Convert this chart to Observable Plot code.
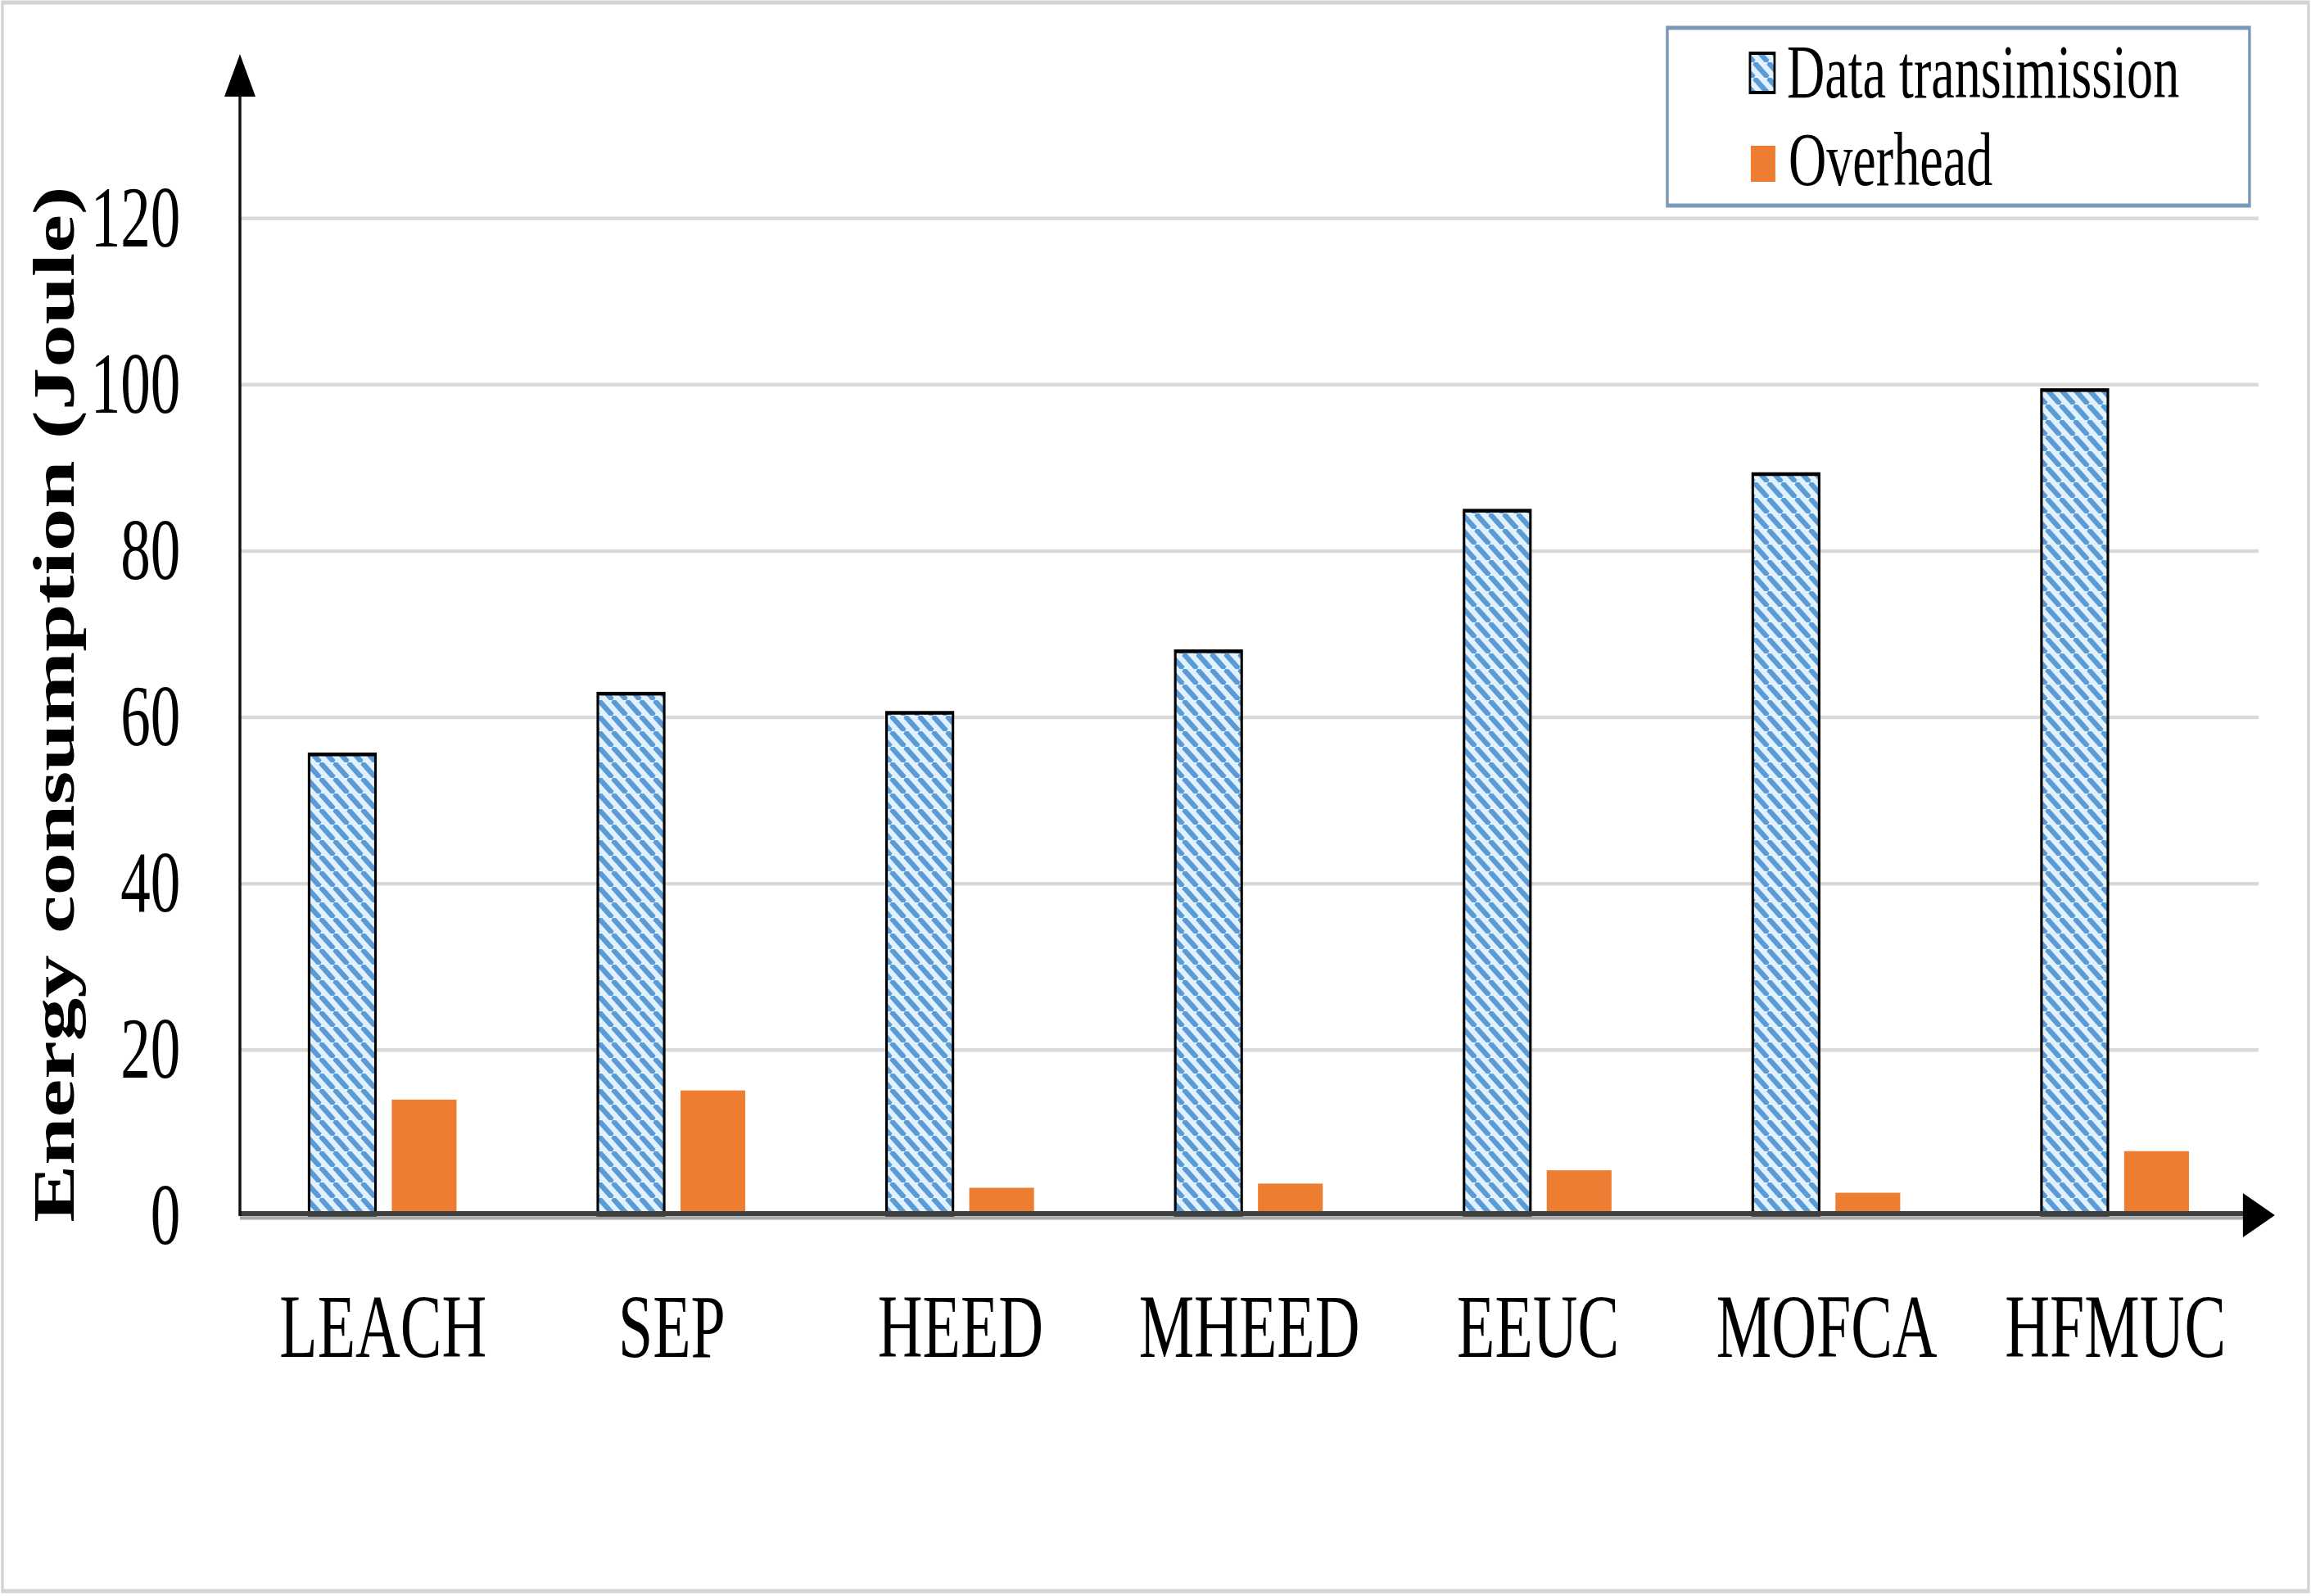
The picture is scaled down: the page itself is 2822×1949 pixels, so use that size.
<!DOCTYPE html>
<html><head><meta charset="utf-8">
<script src="https://cdn.jsdelivr.net/npm/d3@7"></script>
<script src="https://cdn.jsdelivr.net/npm/@observablehq/plot@0.6"></script>
<style>html,body{margin:0;padding:0;background:#fff;overflow:hidden}</style>
</head><body><div id="chart"></div>
<script>
const categories = ["LEACH", "SEP", "HEED", "MHEED", "EEUC", "MOFCA", "HFMUC"];
const dataTransmission = [55.5, 62.8, 60.5, 67.9, 84.8, 89.2, 99.3];
const overhead = [14.0, 15.1, 3.4, 3.9, 5.5, 2.8, 7.8];
const seriesNames = ["Data transimission", "Overhead"];
const yTicks = [0, 20, 40, 60, 80, 100, 120];
const yTitle = "Energy consumption (Joule)";

const OUT_W = 2822, OUT_H = 1949;
const SQ = 0.69;                       // horizontal squash of the original picture
const W = Math.round(OUT_W / SQ);
const fx = v => v / SQ;                // output px (horizontal) -> view units
const FONT = "'Liberation Serif', 'Times New Roman', serif";
const ORANGE = "#ed7d31";

const rowsData = categories.map((c, i) => ({category: c, series: seriesNames[0], value: dataTransmission[i]}));
const rowsOver = categories.map((c, i) => ({category: c, series: seriesNames[1], value: overhead[i]}));

const plot = Plot.plot({
  width: W, height: OUT_H,
  marginLeft: fx(293), marginRight: W - fx(2758), marginTop: 63, marginBottom: OUT_H - 1485,
  x: {domain: categories, paddingInner: 0.489, paddingOuter: 0.234, align: 0.5},
  y: {domain: [0, 140]},
  marks: [
    Plot.gridY(yTicks, {stroke: "#d9d9d9", strokeOpacity: 1, strokeWidth: 4.5}),
    Plot.barY(rowsData, {x: "category", y: "value", fill: "url(#hatch)", stroke: "#000", strokeWidth: 4.5, insetRight: fx(99)}),
    Plot.barY(rowsOver, {x: "category", y: "value", fill: ORANGE, insetLeft: fx(101)}),
    Plot.axisY(yTicks, {tickSize: 0, tickPadding: fx(73), fontSize: 106, fontFamily: FONT, color: "#000", label: null}),
    Plot.axisX({tickSize: 0, tickPadding: 93, fontSize: 110, fontFamily: FONT, color: "#000", label: null})
  ]
});

const svg = d3.select(plot);
svg.attr("width", OUT_W).attr("height", OUT_H).attr("preserveAspectRatio", "none")
   .attr("style", `display:block;width:${OUT_W}px;height:${OUT_H}px;max-width:none;background:#fff;font-family:${FONT}`);

// hatch pattern
const tw = fx(17), th = 19;
const defs = svg.insert("defs", ":first-child");
const pat = defs.append("pattern").attr("id", "hatch").attr("patternUnits", "userSpaceOnUse")
  .attr("width", tw).attr("height", th);
pat.append("rect").attr("width", tw).attr("height", th).attr("fill", "#e2f2fc");
const sp = tw * th / Math.hypot(tw, th);
pat.append("path").attr("d", `M0,0L${tw},${th}M${-tw},0L0,${th}M${tw},0L${2 * tw},${th}`)
  .attr("stroke", "#5b9bd5").attr("stroke-width", sp * 0.5).attr("fill", "none");

const ys = plot.scale("y");
const y0 = ys.apply(0);
const xL = fx(293);

// x axis line with arrow
svg.append("line").attr("x1", xL).attr("x2", fx(2742)).attr("y1", y0 + 2.5).attr("y2", y0 + 2.5)
  .attr("stroke", "#a8a8a8").attr("stroke-width", 4);
svg.append("line").attr("x1", xL).attr("x2", fx(2742)).attr("y1", y0 - 3).attr("y2", y0 - 3)
  .attr("stroke", "#3f3f3f").attr("stroke-width", 6);
svg.append("path").attr("d", `M${fx(2739)},${y0 - 28}L${fx(2778)},${y0 - 1}L${fx(2739)},${y0 + 26}Z`).attr("fill", "#000");

// y axis line with arrow
svg.append("line").attr("x1", xL).attr("x2", xL).attr("y1", 110).attr("y2", y0)
  .attr("stroke", "#111").attr("stroke-width", 5);
svg.append("path").attr("d", `M${xL - fx(19)},118L${xL},66L${xL + fx(19)},118Z`).attr("fill", "#000");

// y title
svg.append("text").attr("transform", `translate(${fx(90)},860) rotate(-90)`)
  .attr("text-anchor", "middle").attr("font-family", FONT).attr("font-weight", "bold")
  .attr("font-size", 105).attr("fill", "#000").text(yTitle);

// legend
const lg = svg.append("g").attr("font-family", FONT).attr("font-size", 93).attr("fill", "#000")
  .attr("text-anchor", "start");
lg.append("rect").attr("x", fx(2036)).attr("y", 34).attr("width", fx(2747 - 2036)).attr("height", 217)
  .attr("fill", "#fff").attr("stroke", "#7b98b6").attr("stroke-width", 5);
lg.append("rect").attr("x", fx(2137)).attr("y", 65).attr("width", fx(30)).attr("height", 48)
  .attr("fill", "url(#hatch)").attr("stroke", "#000").attr("stroke-width", 4);
lg.append("text").attr("x", fx(2182)).attr("y", 119).attr("text-anchor", "start").text(seriesNames[0]);
lg.append("rect").attr("x", fx(2138)).attr("y", 178).attr("width", fx(30)).attr("height", 44)
  .attr("fill", ORANGE);
lg.append("text").attr("x", fx(2184)).attr("y", 226).attr("text-anchor", "start").text(seriesNames[1]);

// outer border
svg.append("rect").attr("x", fx(3)).attr("y", 3).attr("width", fx(2816)).attr("height", 1940)
  .attr("fill", "none").attr("stroke", "#d4d4d4").attr("stroke-width", 5);

document.getElementById("chart").appendChild(plot);
</script>
</body></html>
